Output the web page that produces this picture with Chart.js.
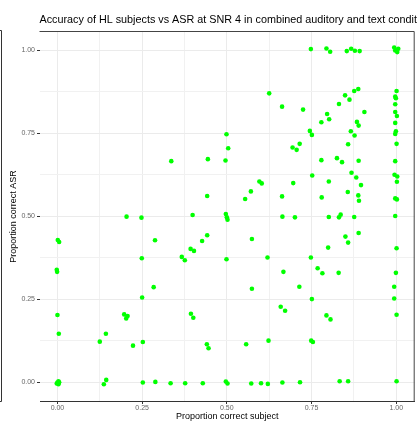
<!DOCTYPE html>
<html>
<head>
<meta charset="utf-8">
<script src="https://cdn.jsdelivr.net/npm/chart.js@4/dist/chart.umd.min.js"></script>
<style>
  html, body { margin: 0; padding: 0; background: #ffffff; }
  #wrap { position: relative; width: 417px; height: 421px; overflow: hidden; }
</style>
</head>
<body>
<div id="wrap"><canvas id="chart" width="417" height="421"></canvas></div>
<script>
// Proportion correct per item: listener (subject) on x, recogniser (ASR) on y
const subjectScore = [
  0.001, 0.005, -0.002, -0.001, 0.000, 0.004, 0.000, 0.003, -0.002, 0.003, 0.005,
  0.137, 0.144, 0.143, 0.125, 0.223, 0.197, 0.203, 0.207, 0.204,
  0.336, 0.444, 0.496, 0.499, 0.504, 0.625, 0.596, 0.603, 0.571, 0.442, 0.554, 0.399,
  0.497, 0.500, 0.502, 0.248, 0.442, 0.427, 0.393, 0.403, 0.288, 0.574, 0.249, 0.367,
  0.376, 0.499, 0.620, 0.284, 0.574, 0.250, 0.394, 0.401, 0.252, 0.441, 0.446, 0.557,
  0.623,
  0.252, 0.289, 0.334, 0.377, 0.429, 0.497, 0.502, 0.572, 0.601, 0.621, 0.664, 0.716,
  0.833, 0.858, 1.001,
  0.748, 0.794, 0.805, 0.854, 0.867, 0.878, 0.892, 0.994, 1.003, 1.006, 0.997,
  0.888, 0.876, 0.849, 0.862, 0.831, 0.663, 0.725, 0.906, 0.796, 0.802, 0.779, 0.884,
  0.889, 0.745, 0.751, 0.866, 0.877, 0.715, 0.694, 0.706, 0.858, 0.779, 0.825, 0.840,
  0.889,
  1.001, 0.997, 0.999, 0.997, 0.997, 1.002, 0.997, 0.999, 0.997, 1.001, 0.997,
  0.752, 0.868, 0.882, 0.696, 0.801, 0.896, 0.857, 0.663, 0.780, 0.888, 0.890,
  0.664, 0.701, 0.801, 0.831, 0.836, 0.876, 0.889, 0.850, 0.858, 0.799, 0.748, 0.667,
  0.768, 0.782, 0.830, 0.714, 0.751,
  0.995, 1.003, 1.002, 0.997, 1.002, 0.997, 1.001, 0.999, 0.994, 0.994,
  0.659, 0.672, 1.001, 0.794, 0.806, 0.749, 0.754
];
const asrScore = [
  0.429, 0.423, 0.339, 0.333, 0.203, 0.147, 0.000, 0.004, -0.003, -0.005, 0.001,
  -0.005, 0.008, 0.147, 0.123, 0.111, 0.205, 0.193, 0.200, 0.499,
  0.666, 0.672, 0.668, 0.747, 0.705, 0.870, 0.605, 0.599, 0.575, 0.561, 0.552, 0.504,
  0.507, 0.497, 0.490, 0.496, 0.443, 0.426, 0.402, 0.396, 0.428, 0.432, 0.374, 0.378,
  0.368, 0.371, 0.376, 0.287, 0.282, 0.256, 0.207, 0.195, 0.122, 0.115, 0.103, 0.115,
  0.126,
  0.000, 0.002, -0.002, -0.002, -0.002, 0.003, -0.003, -0.003, -0.002, -0.004, 0.000, 0.001,
  0.004, 0.004, 0.004,
  1.003, 1.005, 0.995, 0.997, 1.004, 0.998, 0.997, 1.008, 0.994, 1.004, 0.999,
  0.883, 0.877, 0.864, 0.851, 0.838, 0.830, 0.821, 0.814, 0.808, 0.792, 0.783, 0.784,
  0.773, 0.757, 0.745, 0.756, 0.743, 0.718, 0.707, 0.700, 0.717, 0.669, 0.675, 0.663,
  0.667,
  0.877, 0.860, 0.855, 0.837, 0.814, 0.802, 0.781, 0.756, 0.748, 0.718, 0.666,
  0.623, 0.631, 0.617, 0.600, 0.605, 0.594, 0.573, 0.560, 0.557, 0.563, 0.547,
  0.499, 0.497, 0.498, 0.497, 0.505, 0.498, 0.450, 0.439, 0.421, 0.406, 0.376, 0.333,
  0.344, 0.329, 0.330, 0.288, 0.251,
  0.625, 0.620, 0.604, 0.554, 0.551, 0.501, 0.404, 0.330, 0.288, 0.253,
  0.228, 0.216, 0.204, 0.202, 0.190, 0.126, 0.122
];

// Grid positions (major + minor) and the labels shown at them
const gridValues = [0, 0.125, 0.25, 0.375, 0.5, 0.625, 0.75, 0.875, 1];
const tickLabels = ['0.00', '', '0.25', '', '0.50', '', '0.75', '', '1.00'];

const chartTitle = 'Accuracy of HL subjects vs ASR at SNR 4 in combined auditory and text condition';
const xTitle = 'Proportion correct subject';
const yTitle = 'Proportion correct ASR';

const FONT = '"Liberation Sans", Arial, sans-serif';
const points = subjectScore.map((x, i) => ({ x: x, y: asrScore[i] }));

const isMajor = (v) => tickLabels[gridValues.findIndex(g => Math.abs(g - v) < 1e-9)] !== '';

// Panel frame (top/right edges), the neighbouring frame edge at the far left, and the heading
const framePlugin = {
  id: 'frame',
  afterDraw(chart) {
    const { ctx, chartArea: a } = chart;
    ctx.save();
    ctx.strokeStyle = '#444444';
    ctx.lineWidth = 1;
    ctx.beginPath();
    ctx.moveTo(a.left - 0.5, a.top - 0.5);
    ctx.lineTo(a.right - 0.5, a.top - 0.5);
    ctx.lineTo(a.right - 0.5, a.bottom + 0.5);
    ctx.stroke();
    ctx.strokeStyle = '#333333';
    ctx.beginPath();
    ctx.moveTo(0, 30.5);
    ctx.lineTo(1.5, 30.5);
    ctx.lineTo(1.5, a.bottom + 0.5);
    ctx.lineTo(0, a.bottom + 0.5);
    ctx.stroke();
    ctx.fillStyle = '#000000';
    ctx.font = '10.8px ' + FONT;
    ctx.textAlign = 'left';
    ctx.textBaseline = 'middle';
    ctx.fillText(chartTitle, a.left - 0.5, 20);
    ctx.restore();
  }
};

const axisCommon = (titleText, titlePadding, fitFn) => ({
  type: 'linear',
  afterBuildTicks: (scale) => { scale.ticks = gridValues.map(v => ({ value: v })); },
  afterFit: fitFn,
  grid: {
    color: (c) => (c.tick && isMajor(c.tick.value)) ? '#ebebeb' : '#f1f1f1',
    lineWidth: 1,
    drawTicks: true,
    tickLength: 3,
    tickColor: (c) => (c.tick && isMajor(c.tick.value)) ? '#333333' : 'rgba(0,0,0,0)'
  },
  ticks: {
    autoSkip: false,
    maxRotation: 0,
    color: '#666666',
    font: { family: FONT, size: 7 },
    callback: (v) => {
      const i = gridValues.findIndex(g => Math.abs(g - v) < 1e-9);
      return i >= 0 ? tickLabels[i] : '';
    }
  },
  title: {
    display: true,
    text: titleText,
    color: '#000000',
    font: { family: FONT, size: 9 },
    padding: titlePadding
  }
});

const xAxis = axisCommon(xTitle, { top: 0, bottom: -1 }, (s) => { s.height = 20; });
xAxis.min = -0.0515;
xAxis.max = 1.0545;
xAxis.ticks.padding = 0;
xAxis.border = { display: true, color: '#333333', width: 1 };

const yAxis = axisCommon(yTitle, { top: 8.5, bottom: 0 }, (s) => { s.width = 40; });
yAxis.min = -0.0555;
yAxis.max = 1.0545;
yAxis.ticks.padding = 2;
yAxis.border = { display: false };

new Chart(document.getElementById('chart'), {
  type: 'scatter',
  data: {
    datasets: [{
      data: points,
      backgroundColor: '#00ff00',
      borderColor: '#00ff00',
      borderWidth: 0,
      pointRadius: 2.3,
      pointHoverRadius: 2.3
    }]
  },
  options: {
    responsive: false,
    animation: false,
    devicePixelRatio: 1,
    layout: { padding: { top: 32, right: 1, left: 0, bottom: 0 } },
    plugins: {
      legend: { display: false },
      tooltip: { enabled: false },
      title: { display: false }
    },
    scales: { x: xAxis, y: yAxis }
  },
  plugins: [framePlugin]
});
</script>
</body>
</html>
